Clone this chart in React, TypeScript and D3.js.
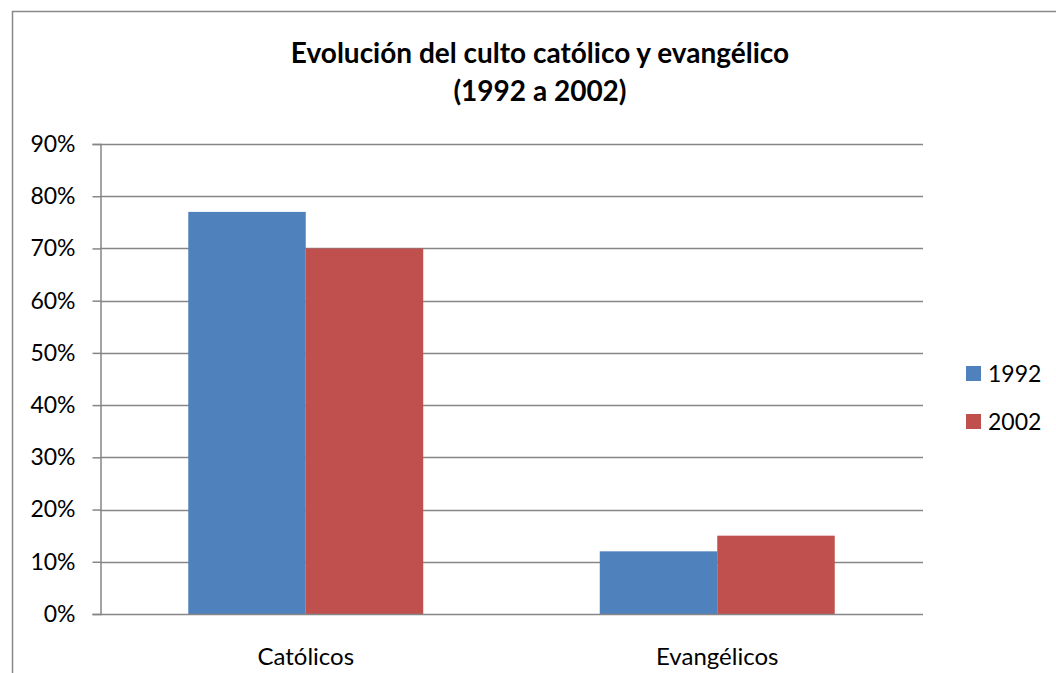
import React, { useRef, useEffect } from 'react';
import { select, scaleLinear, scaleBand, axisLeft, range } from 'd3';

const categories = ['Católicos', 'Evangélicos'];
const years = ['1992', '2002'];
const values1992 = [0.77, 0.12];
const values2002 = [0.7, 0.15];
const yTicks = [0, 0.1, 0.2, 0.3, 0.4, 0.5, 0.6, 0.7, 0.8, 0.9];
const titleLines = ['Evolución del culto católico y evangélico', '(1992 a 2002)'];

const colors = ['#4F81BD', '#C0504D'];
const FONT = 'Lato, Calibri, Carlito, sans-serif';

const App = () => {
  const svgRef = useRef(null);

  useEffect(() => {
    const svg = select(svgRef.current);
    svg.selectAll('*').remove();

    const plot = { left: 100, top: 144, right: 923, bottom: 614 };
    const series = [values1992, values2002];

    // outer frame (runs off the right/bottom of the picture)
    svg
      .append('rect')
      .attr('x', 12.5)
      .attr('y', 11.5)
      .attr('width', 1200)
      .attr('height', 1000)
      .attr('fill', '#fff')
      .attr('stroke', '#888')
      .attr('stroke-width', 1.5);

    // title
    svg
      .append('text')
      .attr('text-anchor', 'middle')
      .attr('font-family', FONT)
      .attr('font-weight', 'bold')
      .attr('font-size', 28)
      .selectAll('tspan')
      .data(titleLines)
      .join('tspan')
      .attr('x', 540)
      .attr('y', (d, i) => 63 + i * 38)
      .text(d => d);

    // scales
    const yScale = scaleLinear().domain([0, 0.9]).range([plot.bottom, plot.top]);
    const gap = 0.429;
    const xScale = scaleBand()
      .domain(categories)
      .range([plot.left, plot.right])
      .paddingInner(gap)
      .paddingOuter(gap / 2);
    const inner = scaleBand().domain(years).range([0, xScale.bandwidth()]);

    // gridlines
    svg
      .append('g')
      .selectAll('line')
      .data(yTicks.slice(1))
      .join('line')
      .attr('x1', plot.left)
      .attr('x2', plot.right)
      .attr('y1', d => Math.round(yScale(d)) + 0.5)
      .attr('y2', d => Math.round(yScale(d)) + 0.5)
      .attr('stroke', '#868686')
      .attr('stroke-width', 1.5);

    // bars
    series.forEach((vals, s) => {
      svg
        .append('g')
        .selectAll('rect')
        .data(vals)
        .join('rect')
        .attr('x', (d, i) => xScale(categories[i]) + inner(years[s]))
        .attr('y', d => yScale(d))
        .attr('width', inner.bandwidth())
        .attr('height', d => plot.bottom - yScale(d))
        .attr('fill', colors[s]);
    });

    // y axis
    const yAxis = axisLeft(yScale)
      .tickValues(yTicks)
      .tickSize(8)
      .tickFormat(d => `${Math.round(d * 100)}%`);
    const gy = svg
      .append('g')
      .attr('transform', `translate(${plot.left + 0.5},0)`)
      .call(yAxis);
    gy.select('.domain').attr('stroke', '#868686').attr('stroke-width', 1.5);
    gy.selectAll('.tick line').attr('stroke', '#868686').attr('stroke-width', 1.5);
    gy.selectAll('.tick text')
      .attr('font-family', FONT)
      .attr('font-size', 23)
      .attr('fill', '#000')
      .attr('x', -25);

    // x axis line
    svg
      .append('line')
      .attr('x1', plot.left)
      .attr('x2', plot.right)
      .attr('y1', plot.bottom + 0.5)
      .attr('y2', plot.bottom + 0.5)
      .attr('stroke', '#868686')
      .attr('stroke-width', 1.5);

    // category labels
    svg
      .append('g')
      .selectAll('text')
      .data(categories)
      .join('text')
      .attr('x', d => xScale(d) + xScale.bandwidth() / 2)
      .attr('y', 665)
      .attr('text-anchor', 'middle')
      .attr('font-family', FONT)
      .attr('font-size', 24)
      .attr('fill', '#000')
      .text(d => d);

    // legend
    const legend = svg
      .append('g')
      .selectAll('g')
      .data(range(years.length))
      .join('g')
      .attr('transform', i => `translate(966,${366 + i * 48})`);
    legend
      .append('rect')
      .attr('width', 15)
      .attr('height', 15)
      .attr('fill', i => colors[i]);
    legend
      .append('text')
      .attr('x', 22)
      .attr('y', 16)
      .attr('font-family', FONT)
      .attr('font-size', 23)
      .attr('fill', '#000')
      .text(i => years[i]);
  }, []);

  return (
    <svg
      ref={svgRef}
      width={1056}
      height={673}
      style={{ position: 'absolute', left: 0, top: 0, background: '#fff' }}
    />
  );
};

export default App;
